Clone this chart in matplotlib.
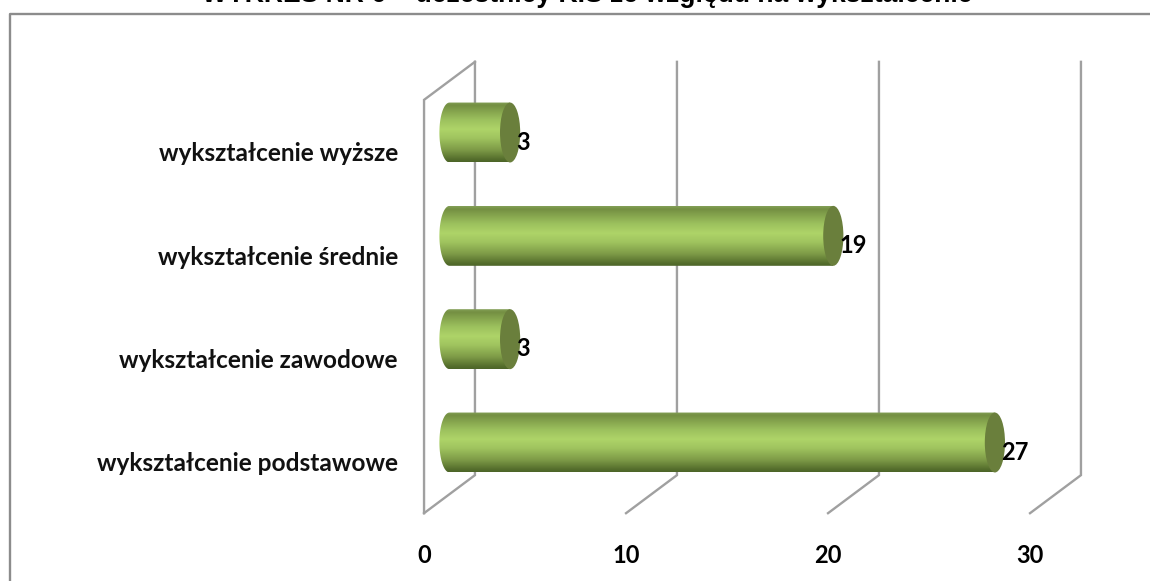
import numpy as np
import matplotlib.pyplot as plt
from matplotlib.colors import LinearSegmentedColormap
from matplotlib.lines import Line2D
from matplotlib.patches import Ellipse, PathPatch
from matplotlib.path import Path

kategorie = ["wykształcenie podstawowe", "wykształcenie zawodowe",
             "wykształcenie średnie", "wykształcenie wyższe"]
wartosci = [27, 3, 19, 3]
ticki = [0, 10, 20, 30]
tytul = "WYKRES NR 6 – uczestnicy KIS ze względu na wykształcenie"

SZARY = "#a0a0a0"
# glebokosc "3D" osi w jednostkach danych
dx = 1.26
dy = 0.184
rx = 0.5
wys = 0.29

cmap = LinearSegmentedColormap.from_list("walec", [
    (0.0, "#84a058"), (0.05, "#748f42"), (0.3, "#9dc25e"), (0.45, "#aed468"),
    (0.6, "#a0c45f"), (0.8, "#7d9a47"), (0.95, "#566f2d"), (1.0, "#4c6428")])

fig = plt.figure(figsize=(11.5, 5.81), dpi=100)
ax = fig.add_axes([0, 0, 1, 1])
ax.axis("off")

# ramka wykresu (przycieta z prawej i z dolu)
fig.add_artist(Line2D([9.5 / 1150, 9.5 / 1150, 1], [0, 1 - 13.5 / 581, 1 - 13.5 / 581],
                      color="#8c8c8c", lw=1.7))

# tytul uciety gora obrazka
fig.text(587 / 1150, 1 - 2.5 / 581, tytul, ha="center", va="baseline",
         family="Liberation Sans", weight="bold", fontsize=19.1, color="black")

# sciany i siatka
y0, y1 = -0.5, len(kategorie) - 0.5
for t in ticki:
    ax.plot([t - dx, t + dx, t + dx], [y0 - dy, y0 + dy, y1 + dy],
            color=SZARY, lw=1.7, zorder=1, solid_joinstyle="miter")
ax.plot([-dx, -dx, dx], [y0 - dy, y1 - dy, y1 + dy], color=SZARY, lw=1.7, zorder=1,
        solid_joinstyle="miter")

gradient = np.linspace(0, 1, 256).reshape(-1, 1)
for i, v in enumerate(wartosci):
    # lewy koniec walca jako polowa elipsy, prawy przykryty denkiem
    t = np.linspace(np.pi / 2, 3 * np.pi / 2, 40)
    xs = np.concatenate([[v], rx * np.cos(t), [v], [v]])
    ys = np.concatenate([[i + wys], i + wys * np.sin(t), [i - wys], [i + wys]])
    sciezka = PathPatch(Path(np.column_stack([xs, ys])), transform=ax.transData,
                        fc="none", ec="none")
    ax.add_patch(sciezka)
    im = ax.imshow(gradient, cmap=cmap, aspect="auto", zorder=2, origin="upper",
                   extent=[-rx, v, i - wys, i + wys], interpolation="bilinear")
    im.set_clip_path(sciezka)
    ax.add_patch(Ellipse((v, i), 2 * rx, 2 * wys, fc="#6a7f3c", ec="none", zorder=3))
    ax.text(v + 0.3, i - 0.165, str(v), ha="left", va="baseline", family="Lato",
            weight="bold", fontsize=17, color="black", zorder=4)
    ax.text(-2.55, i - 0.28, kategorie[i], ha="right", va="baseline",
            family="Lato", weight="bold", fontsize=17.6, color="#111111")

for t in ticki:
    ax.text(t - dx, -1.166, str(t), ha="center", va="baseline", family="Lato",
            weight="bold", fontsize=17, color="black")

ax.set_xlim(-449.5 / 20.2, (1150 - 449.5) / 20.2)
ax.set_ylim((442.5 - 581) / 103.33, 442.5 / 103.33)

fig.savefig("out.png", dpi=100)
